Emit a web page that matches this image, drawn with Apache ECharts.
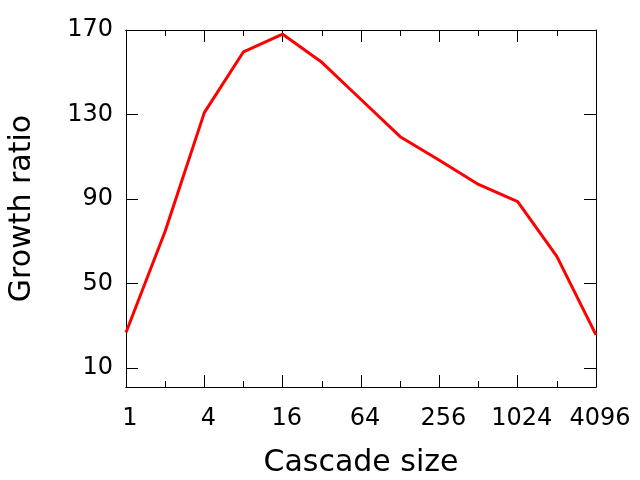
<!DOCTYPE html>
<html>
<head>
<meta charset="utf-8">
<script src="https://cdn.jsdelivr.net/npm/echarts@6/dist/echarts.min.js"></script>
<style>
  html, body { margin: 0; padding: 0; background: #fff; }
  #chart { width: 640px; height: 480px; }
</style>
</head>
<body>
<div id="chart"></div>
<script>
const cascadeSizes = [1, 2, 4, 8, 16, 32, 64, 128, 256, 512, 1024, 2048, 4096];
const growthRatio = [26.8, 74.7, 130.9, 159.7, 168, 154.7, 137.1, 119.5, 108.3, 96.9, 88.7, 62.8, 25.7];
const yTickValues = [10, 50, 90, 130, 170];

const FONT = "DejaVu Sans";

const chart = echarts.init(document.getElementById("chart"));

const baseX = {
  type: "log",
  logBase: 2,
  min: 1,
  max: 4096,
  gridIndex: 0,
  splitLine: { show: false },
  axisLine: { show: true, lineStyle: { color: "#000", width: 1 } },
};

// major ticks every 4x (labelled), minor every 2x, mirrored on top
const xAxes = [
  {
    ...baseX,
    position: "bottom",
    interval: 2,
    name: "Cascade size",
    nameLocation: "middle",
    nameGap: 61,
    nameTextStyle: { fontFamily: FONT, fontSize: 30, color: "#000" },
    axisTick: { inside: true, length: 12, lineStyle: { color: "#000" } },
    axisLabel: {
      margin: 20,
      fontFamily: FONT,
      fontSize: 24,
      color: "#000",
      padding: [0, 0, 0, 8],
      showMinLabel: true,
      showMaxLabel: true,
      formatter: (v) => String(Math.round(v)),
    },
  },
  {
    ...baseX,
    position: "bottom",
    interval: 1,
    axisTick: { inside: true, length: 6, lineStyle: { color: "#000" } },
    axisLabel: { show: false },
  },
  {
    ...baseX,
    position: "top",
    interval: 2,
    axisTick: { inside: true, length: 12, lineStyle: { color: "#000" } },
    axisLabel: { show: false },
  },
  {
    ...baseX,
    position: "top",
    interval: 1,
    axisTick: { inside: true, length: 6, lineStyle: { color: "#000" } },
    axisLabel: { show: false },
  },
];

const baseY = {
  type: "value",
  min: 1,
  max: 170,
  splitLine: { show: false },
  axisLine: { show: true, lineStyle: { color: "#000", width: 1 } },
  axisTick: {
    show: true,
    inside: true,
    length: 12,
    customValues: yTickValues,
    lineStyle: { color: "#000" },
  },
};

chart.setOption({
  animation: false,
  backgroundColor: "#fff",
  grid: {
    left: 126,
    right: 44,
    top: 30,
    bottom: 93,
    containLabel: false,
    outerBoundsMode: "none",
  },
  xAxis: xAxes,
  yAxis: [
    {
      ...baseY,
      position: "left",
      name: "Growth ratio",
      nameLocation: "middle",
      nameGap: 89,
      nameTextStyle: { fontFamily: FONT, fontSize: 30, color: "#000" },
      axisLabel: {
        margin: 13,
        fontFamily: FONT,
        fontSize: 24,
        color: "#000",
        customValues: yTickValues,
      },
    },
    {
      ...baseY,
      position: "right",
      axisLabel: { show: false },
    },
  ],
  series: [
    {
      type: "line",
      xAxisIndex: 0,
      yAxisIndex: 0,
      data: cascadeSizes.map((s, i) => [s, growthRatio[i]]),
      showSymbol: false,
      symbol: "none",
      lineStyle: { color: "#ff0000", width: 3 },
      itemStyle: { color: "#ff0000" },
    },
  ],
});
</script>
</body>
</html>
